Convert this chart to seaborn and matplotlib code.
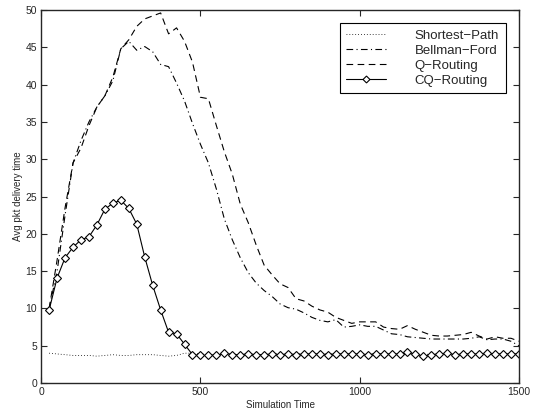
import matplotlib
matplotlib.use("Agg")
import matplotlib.pyplot as plt
import seaborn as sns
import pandas as pd

# simulation time steps (x) and the four routing series
sim_time = [25, 50, 75, 100, 125, 150, 175, 200, 225, 250,
            275, 300, 325, 350, 375, 400, 425, 450, 475, 500,
            525, 550, 575, 600, 625, 650, 675, 700, 725, 750,
            775, 800, 825, 850, 875, 900, 925, 950, 975, 1000,
            1025, 1050, 1075, 1100, 1125, 1150, 1175, 1200, 1225, 1250,
            1275, 1300, 1325, 1350, 1375, 1400, 1425, 1450, 1475, 1500]

shortest_path = [4.0, 3.9, 3.8, 3.7, 3.7, 3.7, 3.6, 3.7, 3.8, 3.7,
                 3.7, 3.8, 3.8, 3.8, 3.7, 3.6, 3.7, 4.0, 4.0, 3.9,
                 3.8, 3.8, 3.9, 3.9, 3.8, 3.9, 3.8, 3.8, 3.9, 3.9,
                 3.8, 3.9, 3.9, 3.8, 3.9, 3.9, 3.9, 3.8, 3.9, 3.9,
                 3.9, 3.9, 3.9, 3.9, 3.8, 3.9, 3.8, 3.8, 3.9, 3.9,
                 3.9, 3.8, 3.9, 3.9, 3.9, 3.9, 3.9, 3.9, 3.9, 3.9]

bellman_ford = [10.0, 15.0, 22.5, 29.5, 32.5, 35.0, 37.0, 38.5, 40.5, 44.8,
                45.8, 44.6, 45.1, 44.4, 42.7, 42.4, 40.2, 37.8, 34.8, 32.0,
                29.5, 26.0, 22.0, 19.2, 16.8, 14.8, 13.4, 12.4, 11.6, 10.6,
                10.1, 9.9, 9.4, 8.8, 8.4, 8.2, 8.5, 7.5, 7.6, 7.8,
                7.6, 7.6, 7.1, 6.6, 6.5, 6.2, 6.1, 6.0, 5.9, 5.9,
                5.9, 5.9, 5.9, 6.0, 6.2, 5.8, 5.9, 5.9, 5.6, 5.0]

q_routing = [10.0, 16.5, 23.5, 29.5, 31.5, 34.5, 37.0, 38.5, 41.0, 44.8,
             46.0, 47.8, 48.8, 49.2, 49.6, 46.8, 47.6, 45.8, 43.0, 38.3,
             38.1, 34.5, 31.0, 28.0, 24.0, 21.5, 18.5, 15.8, 14.5, 13.3,
             12.8, 11.3, 11.0, 10.3, 9.8, 9.5, 8.8, 8.4, 8.0, 8.2,
             8.2, 8.2, 7.5, 7.3, 7.2, 7.7, 7.2, 6.8, 6.4, 6.3,
             6.3, 6.4, 6.5, 6.8, 6.3, 5.9, 6.2, 6.0, 6.0, 5.6]

cq_routing = [9.8, 14.1, 16.8, 18.2, 19.2, 19.6, 21.2, 23.3, 24.1, 24.5,
              23.4, 21.3, 16.9, 13.1, 9.8, 6.8, 6.6, 5.2, 3.8, 3.7,
              3.7, 3.7, 4.0, 3.8, 3.8, 3.9, 3.8, 3.8, 3.9, 3.8,
              3.9, 3.8, 3.9, 3.9, 3.9, 3.8, 3.9, 3.9, 3.9, 3.9,
              3.8, 3.9, 3.9, 3.9, 3.9, 4.1, 3.9, 3.6, 3.8, 3.9,
              4.0, 3.8, 3.9, 3.9, 3.9, 4.0, 3.9, 3.9, 3.9, 3.9]

df = pd.DataFrame({"time": sim_time,
                   "Shortest\u2212Path": shortest_path,
                   "Bellman\u2212Ford": bellman_ford,
                   "Q\u2212Routing": q_routing,
                   "CQ\u2212Routing": cq_routing})

sns.set_style("ticks")
plt.rcParams['font.family'] = ['Liberation Sans', 'DejaVu Sans']
plt.rcParams['axes.linewidth'] = 1.0

fig = plt.figure(figsize=(5.35, 4.15), dpi=100)
ax = fig.add_axes([0.077, 0.077, 0.893, 0.899])

lw = 0.8
sns.lineplot(data=df, x="time", y="Shortest\u2212Path", ax=ax, color="k",
             lw=0.6, linestyle=(0, (1, 2.5)), label="Shortest\u2212Path")
sns.lineplot(data=df, x="time", y="Bellman\u2212Ford", ax=ax, color="k",
             lw=lw, linestyle=(0, (6, 3, 1, 3)), label="Bellman\u2212Ford")
sns.lineplot(data=df, x="time", y="Q\u2212Routing", ax=ax, color="k",
             lw=lw, linestyle=(0, (6, 4)), label="Q\u2212Routing")
sns.lineplot(data=df, x="time", y="CQ\u2212Routing", ax=ax, color="k",
             lw=lw, marker="D", ms=4.3, mfc="white",
             mec="k", mew=0.8, label="CQ\u2212Routing")

ax.set_xlim(0, 1500)
ax.set_ylim(0, 50)
ax.set_xticks([0, 500, 1000, 1500])
ax.set_yticks([0, 5, 10, 15, 20, 25, 30, 35, 40, 45, 50])
ax.tick_params(direction="in", top=True, right=True, length=4, width=0.8,
               labelsize=7.5, pad=3)
ax.set_xlabel("Simulation Time", fontsize=7, labelpad=2)
ax.set_ylabel("Avg pkt delivery time", fontsize=7, labelpad=2)

leg = ax.legend(loc="upper right", fontsize=9.5, frameon=True, fancybox=False,
                edgecolor="k", framealpha=1, handlelength=3.0,
                borderpad=0.5, labelspacing=0.2, handletextpad=2.2,
                borderaxespad=1.0)
leg.get_frame().set_linewidth(0.8)
for line in leg.get_lines():
    line.set_markersize(3.5)

plt.savefig("out.png", dpi=100)
